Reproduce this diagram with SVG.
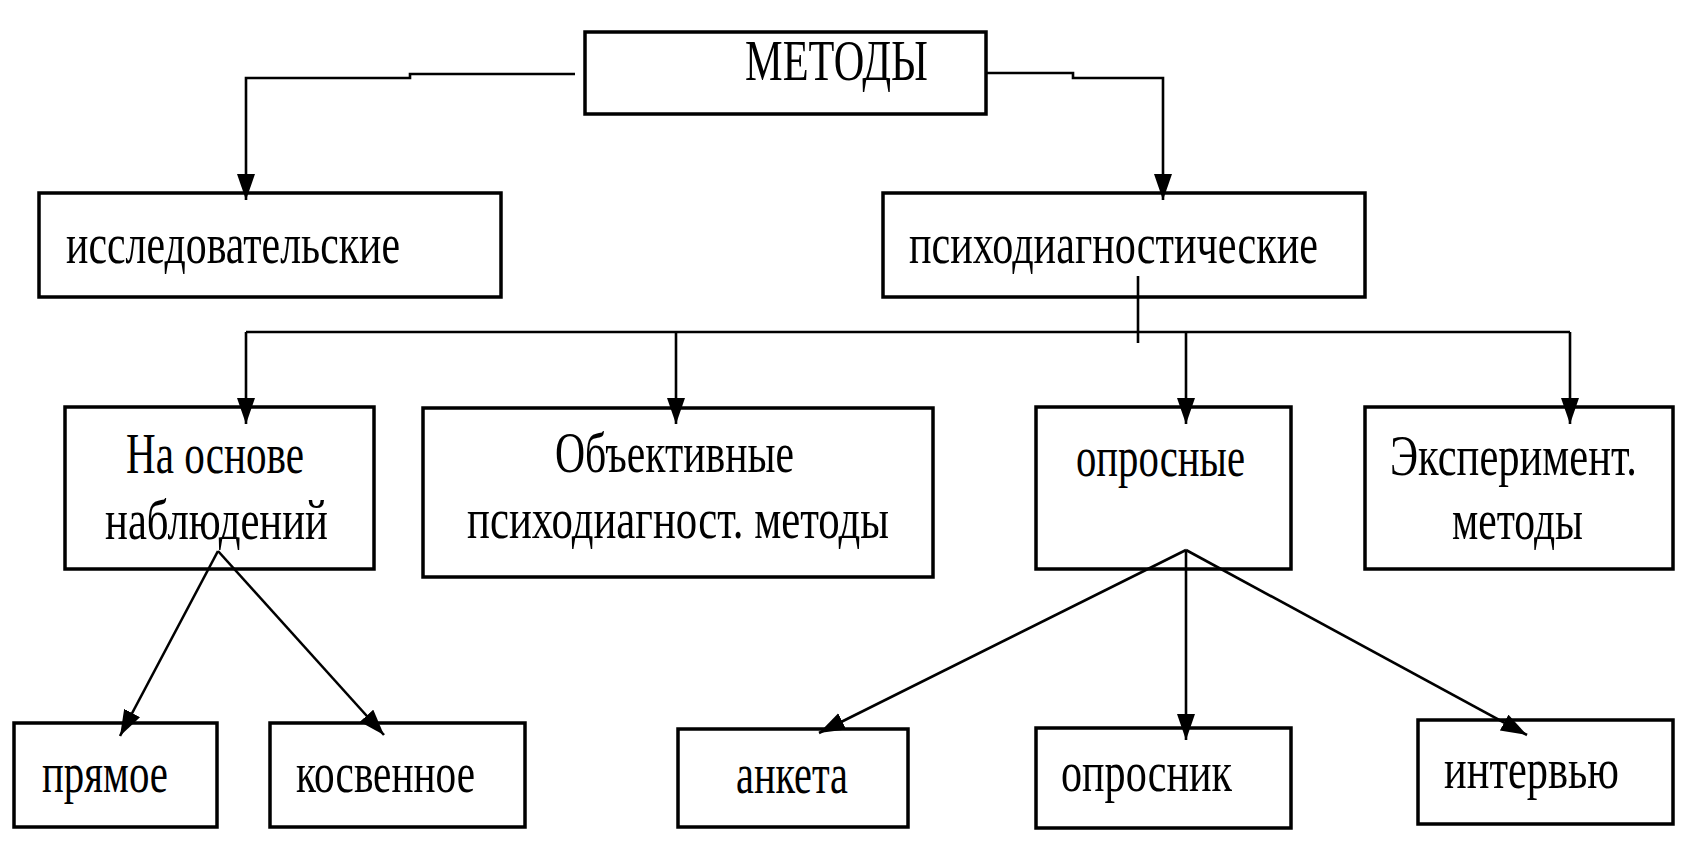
<svg xmlns="http://www.w3.org/2000/svg" width="1685" height="843" viewBox="0 0 1685 843">
<style>
.box{fill:#fff;stroke:#000;stroke-width:3.5}
.t{font-family:"Liberation Serif","DejaVu Serif",serif;font-size:56px;fill:#000}
.c{fill:none;stroke:#000;stroke-width:2.6}
</style>
<defs>
<marker id="ah" markerUnits="userSpaceOnUse" markerWidth="28" markerHeight="20" refX="26" refY="9" orient="auto">
<path d="M0,0 L26,9 L0,18 z" fill="#000"/>
</marker>
</defs>
<rect width="1685" height="843" fill="#fff"/>
<g id="n-metody"><rect class="box" x="585" y="32" width="401" height="82"/><text class="t" x="745" y="80" textLength="183" lengthAdjust="spacingAndGlyphs">МЕТОДЫ</text></g>
<g id="n-issled"><rect class="box" x="39" y="193" width="462" height="104"/><text class="t" x="66" y="263" textLength="334" lengthAdjust="spacingAndGlyphs">исследовательские</text></g>
<g id="n-psiho"><rect class="box" x="883" y="193" width="482" height="104"/><text class="t" x="909" y="263" textLength="409" lengthAdjust="spacingAndGlyphs">психодиагностические</text></g>
<g id="n-nabl"><rect class="box" x="65" y="407" width="309" height="162"/><text class="t" x="126" y="473" textLength="178" lengthAdjust="spacingAndGlyphs">На основе</text><text class="t" x="105" y="539" textLength="223" lengthAdjust="spacingAndGlyphs">наблюдений</text></g>
<g id="n-obj"><rect class="box" x="423" y="408" width="510" height="169"/><text class="t" x="555" y="472" textLength="239" lengthAdjust="spacingAndGlyphs">Объективные</text><text class="t" x="467" y="538" textLength="422" lengthAdjust="spacingAndGlyphs">психодиагност. методы</text></g>
<g id="n-opros"><rect class="box" x="1036" y="407" width="255" height="162"/><text class="t" x="1076" y="476" textLength="169" lengthAdjust="spacingAndGlyphs">опросные</text></g>
<g id="n-exp"><rect class="box" x="1365" y="407" width="308" height="162"/><text class="t" x="1390" y="475" textLength="247" lengthAdjust="spacingAndGlyphs">Эксперимент.</text><text class="t" x="1452" y="539" textLength="131" lengthAdjust="spacingAndGlyphs">методы</text></g>
<g id="n-pryamoe"><rect class="box" x="14" y="723" width="203" height="104"/><text class="t" x="42" y="792" textLength="126" lengthAdjust="spacingAndGlyphs">прямое</text></g>
<g id="n-kosv"><rect class="box" x="270" y="723" width="255" height="104"/><text class="t" x="296" y="792" textLength="179" lengthAdjust="spacingAndGlyphs">косвенное</text></g>
<g id="n-anketa"><rect class="box" x="678" y="729" width="230" height="98"/><text class="t" x="736" y="793" textLength="112" lengthAdjust="spacingAndGlyphs">анкета</text></g>
<g id="n-oprosnik"><rect class="box" x="1036" y="728" width="255" height="100"/><text class="t" x="1061" y="791" textLength="171" lengthAdjust="spacingAndGlyphs">опросник</text></g>
<g id="n-interv"><rect class="box" x="1418" y="720" width="255" height="104"/><text class="t" x="1444" y="788" textLength="175" lengthAdjust="spacingAndGlyphs">интервью</text></g>
<g id="connectors">
<polyline class="c" points="575,74 410,74 410,78 246,78 246,200" marker-end="url(#ah)"/>
<polyline class="c" points="986,73 1073,73 1073,78 1163,78 1163,200" marker-end="url(#ah)"/>
<line class="c" x1="1138" y1="276" x2="1138" y2="343"/>
<line class="c" x1="246" y1="332" x2="1570" y2="332"/>
<line class="c" x1="246" y1="332" x2="246" y2="424" marker-end="url(#ah)"/>
<line class="c" x1="676" y1="332" x2="676" y2="424" marker-end="url(#ah)"/>
<line class="c" x1="1186" y1="332" x2="1186" y2="424" marker-end="url(#ah)"/>
<line class="c" x1="1570" y1="332" x2="1570" y2="424" marker-end="url(#ah)"/>
<line class="c" x1="218" y1="551" x2="120" y2="736" marker-end="url(#ah)"/>
<line class="c" x1="218" y1="551" x2="384" y2="735" marker-end="url(#ah)"/>
<line class="c" x1="1186" y1="550" x2="819" y2="733" marker-end="url(#ah)"/>
<line class="c" x1="1186" y1="550" x2="1186" y2="740" marker-end="url(#ah)"/>
<line class="c" x1="1186" y1="550" x2="1527" y2="735" marker-end="url(#ah)"/>
</g>
</svg>
